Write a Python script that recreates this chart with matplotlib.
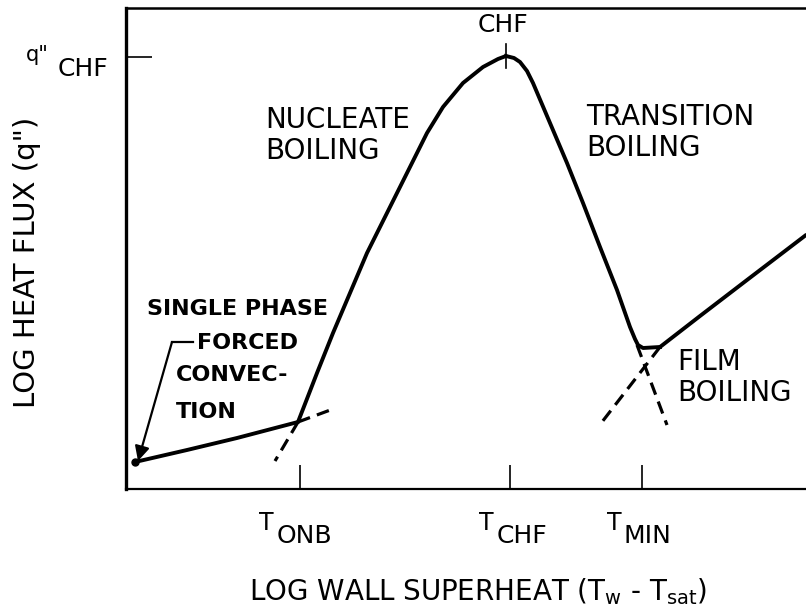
import matplotlib
matplotlib.use("Agg")
import matplotlib.pyplot as plt

plt.rcParams['font.family'] = ['DejaVu Sans']

# ---- data (arbitrary log units) ----
single_x = [9, 61, 111, 172]
single_y = [27, 39, 51, 67]

nucleate_x = [172, 191, 207, 224, 241, 261, 281, 301, 317, 337, 357, 372, 380]
nucleate_y = [67, 116, 156, 196, 236, 276, 316, 356, 382, 406, 422, 430, 433]

transition_x = [380, 388, 394, 401, 407, 424, 441, 457, 474, 491, 504, 509, 512, 517, 534]
transition_y = [433, 431, 427, 418, 406, 366, 326, 286, 242, 199, 162, 150, 144, 141, 142]

film_x = [534, 574, 621, 680]
film_y = [142, 173, 209, 254]

onb_ext1_x = [172, 207]
onb_ext1_y = [67, 80]
onb_ext2_x = [172, 149]
onb_ext2_y = [67, 28]
min_ext1_x = [511, 541]
min_ext1_y = [144, 64]
min_ext2_x = [534, 476]
min_ext2_y = [142, 67]

xtick_pos = [174, 384, 516]
xtick_main = ["T", "T", "T"]
xtick_sub = ["ONB", "CHF", "MIN"]
q_chf = 432
chf_x = 380

fig = plt.figure(figsize=(8.06, 6.13), dpi=100)
ax = fig.add_axes([126/806, 124/613, 680/806, 481/613])
ax.set_xlim(0, 680)
ax.set_ylim(0, 481)

lw = 2.8
ax.plot(single_x, single_y, color='k', lw=lw, solid_capstyle='round')
ax.plot(nucleate_x, nucleate_y, color='k', lw=lw, solid_capstyle='round', solid_joinstyle='round')
ax.plot(transition_x, transition_y, color='k', lw=lw, solid_joinstyle='round')
ax.plot(film_x, film_y, color='k', lw=lw, solid_capstyle='round')
ax.plot(single_x[:1], single_y[:1], 'o', color='k', ms=5)

dash = (0, (4, 2.3))
for xs, ys in [(onb_ext1_x, onb_ext1_y), (onb_ext2_x, onb_ext2_y),
               (min_ext1_x, min_ext1_y), (min_ext2_x, min_ext2_y)]:
    ax.plot(xs, ys, color='k', lw=2.3, linestyle=dash)

# CHF marker on the peak
ax.plot([chf_x, chf_x], [421, 445], color='k', lw=1.2)

# spines / ticks
ax.spines['right'].set_visible(False)
ax.spines['left'].set_linewidth(2.4)
ax.spines['bottom'].set_linewidth(1.6)
ax.spines['top'].set_linewidth(1.8)
ax.set_xticks(xtick_pos)
ax.set_xticklabels([""] * len(xtick_pos))
ax.set_yticks([q_chf])
ax.set_yticklabels([""])
ax.tick_params(axis='x', direction='in', length=17, width=1.2)
ax.tick_params(axis='y', direction='in', length=19, width=1.2)

# tick labels drawn as two-part text (raised T, lowered subscript)
main_x = [140, 360, 488]
sub_x = [151, 371, 497]
for mx, sx, m, s in zip(main_x, sub_x, xtick_main, xtick_sub):
    ax.text(mx, -34, m, fontsize=17, ha='center', va='center')
    ax.text(sx, -47, s, fontsize=18, ha='left', va='center')
ax.text(-89, 434, "q\"", fontsize=15, ha='center', va='center')
ax.text(-68, 420, "CHF", fontsize=18, ha='left', va='center')

# region labels
fs = 20
ax.text(377, 464, "CHF", fontsize=18, ha='center', va='center')
ax.text(139, 383, "NUCLEATE\nBOILING", fontsize=fs, ha='left', va='top', linespacing=1.15)
ax.text(460, 386, "TRANSITION\nBOILING", fontsize=fs, ha='left', va='top', linespacing=1.15)
ax.text(551, 141, "FILM\nBOILING", fontsize=fs, ha='left', va='top', linespacing=1.15)
ax.text(21, 180, "SINGLE PHASE", fontsize=16, fontweight='bold', ha='left', va='center')
ax.text(71, 146, "FORCED", fontsize=16, fontweight='bold', ha='left', va='center')
ax.text(50, 114, "CONVEC-", fontsize=16, fontweight='bold', ha='left', va='center')
ax.text(50, 77, "TION", fontsize=16, fontweight='bold', ha='left', va='center')

# arrow from label to curve start
ax.plot([67, 46], [147, 147], color='k', lw=1.6)
ax.annotate("", xy=(12, 28), xytext=(46, 147),
            arrowprops=dict(arrowstyle='-|>', lw=1.6, color='k', mutation_scale=22,
                            shrinkA=0, shrinkB=0))

ax.set_xlabel(r"LOG WALL SUPERHEAT (T$_\mathregular{w}$ - T$_\mathregular{sat}$)", fontsize=20)
ax.xaxis.set_label_coords(0.518, -0.214)
ax.xaxis.label.set_va('center')
ax.set_ylabel("LOG HEAT FLUX (q\")", fontsize=21)
ax.yaxis.set_label_coords(-0.1456, 0.472)
ax.yaxis.label.set_va('center')

fig.savefig("out.png", dpi=100)
